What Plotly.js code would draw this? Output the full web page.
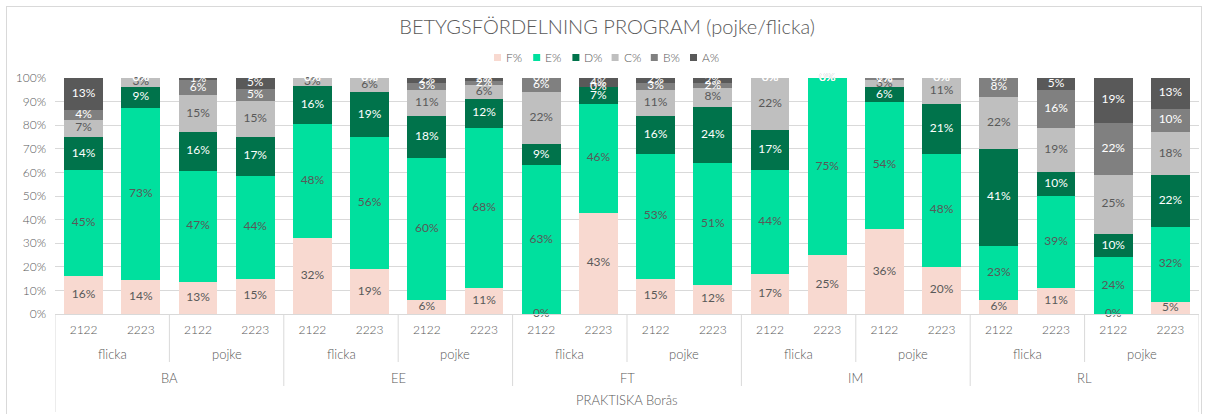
<!DOCTYPE html>
<html>
<head>
<meta charset="utf-8">
<script src="https://cdn.plot.ly/plotly-3.0.1.min.js"></script>
<style>
html,body{margin:0;padding:0;overflow:hidden;background:#fff;}
#wrap{position:relative;width:1207px;height:414px;}
#chart{position:absolute;left:0;top:0;width:1207px;height:414px;}
#frame{position:absolute;left:6px;top:6px;width:1194px;height:430px;border:1px solid #D9D9D9;pointer-events:none;}
</style>
</head>
<body>
<div id="wrap"><div id="chart"></div><div id="frame"></div></div>
<script>
// ---- data ----
const years   = ['2122','2223','2122','2223','2122','2223','2122','2223','2122','2223','2122','2223','2122','2223','2122','2223','2122','2223','2122','2223'];
const genders = ['flicka','pojke','flicka','pojke','flicka','pojke','flicka','pojke','flicka','pojke'];
const programs = ['BA','EE','FT','IM','RL'];
const schoolLabel = 'PRAKTISKA Borås';
const seriesNames = ['F%','E%','D%','C%','B%','A%'];
const F = [16, 14.4, 13.4, 15, 32.4, 19, 6, 11, 0, 43, 15, 12.4, 17, 25, 36, 20, 6, 11, 0, 5];
const E = [45, 73, 47.4, 43.6, 48.2, 56, 60, 68, 63, 46, 53, 51.4, 44, 75, 54, 48, 23, 39, 24, 32];
const D = [14, 9, 16.4, 16.6, 16, 19, 18, 12, 9, 7, 16, 24, 17, 0, 6, 21, 41, 10, 10, 22];
const C = [7.4, 3.4, 15.4, 15, 3.4, 6, 11, 6, 22, 0, 11, 8, 22, 0, 3, 11, 22, 19, 25, 18];
const B = [4, 0, 6.4, 5, 0, 0, 3, 1.6, 6, 0, 3, 2, 0, 0, 1, 0, 8, 16, 22, 10];
const A = [13.4, 0, 1, 5, 0, 0, 2, 1.6, 0, 4, 2, 2, 0, 0, 0, 0, 0, 5, 19, 13];
const seriesValues = [F, E, D, C, B, A];
const colors = ['#F8D9D0', '#00E09E', '#00734B', '#BFBFBF', '#808080', '#595959'];
const labelColors = ['#595959', '#595959', '#FFFFFF', '#595959', '#FFFFFF', '#FFFFFF'];

const FONT = 'Lato, "Noto Sans", sans-serif';
const W = 300;
const xs = years.map((_, i) => i);
const traces = [];
seriesValues.forEach((vals, s) => {
  traces.push({
    type: 'bar', name: seriesNames[s], x: xs, y: vals,
    marker: {color: colors[s], line: {width: 0}},
    hoverinfo: 'name+y', showlegend: false
  });
});
// data labels at segment centres (like Excel, including 0% labels)
const cum = xs.map(() => 0);
seriesValues.forEach((vals, s) => {
  const ys = vals.map((v, i) => cum[i] + v / 2);
  vals.forEach((v, i) => { cum[i] += v; });
  traces.push({
    type: 'scatter', mode: 'text', x: xs, y: ys,
    text: vals.map(v => Math.round(v) + '%'),
    textfont: {family: FONT, size: 12, color: labelColors[s], weight: 400},
    showlegend: false, hoverinfo: 'skip', cliponaxis: false
  });
});

// plot geometry helpers
const L = 55, R = 8, T = 78, Bm = 100, H = 414 - T - Bm, PW = 1207 - L - R;
const py = p => (414 - Bm - p) / H; // pixel y -> paper y
const px = p => (p - L) / PW;       // pixel x -> paper x

const shapes = [];
const annotations = [];
const lineStyle = {color: '#D9D9D9', width: 1};
for (let g = 0; g <= genders.length; g++) {
  const xpos = g * 2 - 0.5;
  let bottom = py(362);
  if (g % 2 === 0) bottom = py(386);
  if (g === 0 || g === genders.length) bottom = py(412);
  shapes.push({type: 'line', xref: 'x', yref: 'paper', x0: xpos, x1: xpos, y0: 0, y1: bottom, line: lineStyle});
}
const lblFont = {family: FONT, size: 13, color: '#595959', weight: W};
genders.forEach((g, i) => {
  annotations.push({xref: 'x', yref: 'paper', x: i * 2 + 0.5, y: py(354), text: g, showarrow: false,
    font: lblFont, yanchor: 'middle'});
});
programs.forEach((p, i) => {
  annotations.push({xref: 'x', yref: 'paper', x: i * 4 + 1.5, y: py(378), text: p, showarrow: false,
    font: lblFont, yanchor: 'middle'});
});
annotations.push({xref: 'x', yref: 'paper', x: 9.5, y: py(400), text: schoolLabel, showarrow: false,
  font: lblFont, yanchor: 'middle'});

// custom compact legend (Excel style)
seriesNames.forEach((n, i) => {
  const x0 = 494 + 39.2 * i;
  shapes.push({type: 'rect', xref: 'paper', yref: 'paper', x0: px(x0), x1: px(x0 + 7), y0: py(61), y1: py(54),
    fillcolor: colors[i], line: {width: 0}});
  annotations.push({xref: 'paper', yref: 'paper', x: px(x0 + 10), y: py(57.5), xanchor: 'left', yanchor: 'middle',
    text: n, showarrow: false, font: {family: FONT, size: 12, color: '#595959', weight: W}});
});

const layout = {
  width: 1207, height: 414,
  margin: {l: L, r: R, t: T, b: Bm},
  paper_bgcolor: 'rgba(0,0,0,0)', plot_bgcolor: '#fff',
  barmode: 'stack', bargap: 0.32, showlegend: false,
  font: {family: FONT, color: '#595959'},
  title: {text: 'BETYGSFÖRDELNING PROGRAM (pojke/flicka)', x: 0.503, xref: 'container', y: 1 - 27 / 414, yref: 'container',
    xanchor: 'center', yanchor: 'middle', font: {family: FONT, size: 20, color: '#595959', weight: W}},
  xaxis: {range: [-0.5, 19.5], tickvals: xs, ticktext: years, showgrid: false, zeroline: false,
    showline: true, linecolor: '#D9D9D9', linewidth: 1, ticks: '', tickfont: {family: FONT, size: 12, color: '#595959', weight: W},
    ticklabelstandoff: 5, fixedrange: true},
  yaxis: {range: [0, 100], tickvals: [0,10,20,30,40,50,60,70,80,90,100],
    ticktext: ['0%','10%','20%','30%','40%','50%','60%','70%','80%','90%','100%'],
    showgrid: true, gridcolor: '#D9D9D9', zeroline: false, showline: false, ticks: '',
    tickfont: {family: FONT, size: 12, color: '#595959', weight: W}, ticklabelstandoff: 8, fixedrange: true},
  shapes: shapes, annotations: annotations
};
Plotly.newPlot('chart', traces, layout, {displayModeBar: false, staticPlot: true});
</script>
</body>
</html>
